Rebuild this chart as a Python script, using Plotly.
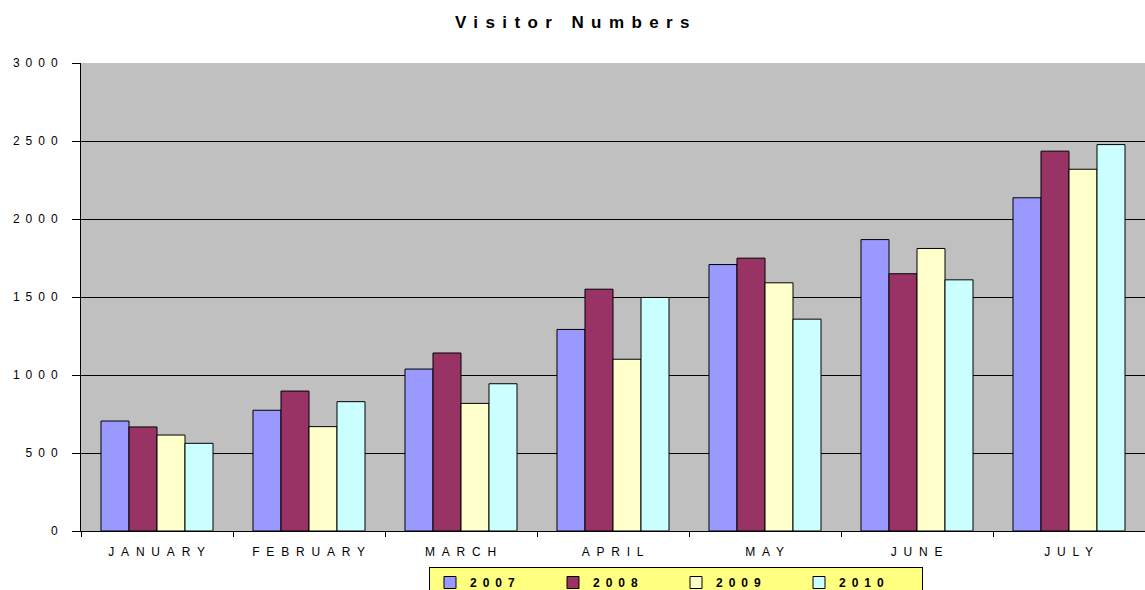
import plotly.graph_objects as go

months = ["JANUARY", "FEBRUARY", "MARCH", "APRIL", "MAY", "JUNE", "JULY"]
years = ["2007", "2008", "2009", "2010"]
v2007 = [705, 774, 1038, 1292, 1708, 1868, 2136]
v2008 = [667, 897, 1141, 1550, 1749, 1649, 2435]
v2009 = [615, 669, 818, 1101, 1591, 1811, 2319]
v2010 = [562, 829, 944, 1497, 1358, 1610, 2477]
colors = ["#9999FF", "#993366", "#FFFFCC", "#CCFFFF"]
yticks = [0, 500, 1000, 1500, 2000, 2500, 3000]
title_text = "Visitor Numbers"


def spaced(s, px):
    return '<span style="letter-spacing:%spx">%s</span>' % (px, s)


fig = go.Figure()
for name, vals, col in zip(years, [v2007, v2008, v2009, v2010], colors):
    fig.add_trace(go.Bar(
        x=months, y=vals, name=spaced(name, 6),
        marker=dict(color=col, line=dict(color="black", width=1)),
    ))

font_family = "Liberation Sans, Arial, sans-serif"
fig.update_layout(
    width=1145, height=590,
    margin=dict(l=81, r=0, t=63, b=59),
    paper_bgcolor="white",
    plot_bgcolor="#C0C0C0",
    barmode="group",
    bargap=0.263,
    bargroupgap=0,
    font=dict(family=font_family, size=12, color="black"),
    title=dict(
        text="<b>" + spaced(title_text, 7.4) + "</b>",
        x=0.503, xref="container", xanchor="center",
        y=1 - 22 / 590, yref="container", yanchor="middle",
        font=dict(family=font_family, size=17, color="black"),
    ),
    xaxis=dict(
        tickvals=months, ticktext=[spaced(m, 6.8) for m in months],
        tickson="boundaries", ticks="outside", ticklen=5, tickcolor="black",
        showline=True, linecolor="black", linewidth=1,
        showgrid=False, ticklabelstandoff=10, ticklabelshift=3,
        tickfont=dict(size=12, family=font_family),
    ),
    yaxis=dict(
        range=[0, 3000], tickvals=yticks, ticktext=[spaced(str(t), 6) for t in yticks],
        ticks="outside", ticklen=8, tickcolor="black",
        showline=True, linecolor="black", linewidth=1,
        showgrid=True, gridcolor="black", gridwidth=1,
        zeroline=False, ticklabelstandoff=6,
        tickfont=dict(size=12, family=font_family),
    ),
    legend=dict(
        orientation="h", xref="container", yref="container",
        x=676 / 1145, xanchor="center", y=1 - 567 / 590, yanchor="top",
        bgcolor="#FFFF80", bordercolor="black", borderwidth=1,
        entrywidth=78, entrywidthmode="pixels",
        font=dict(family=font_family, size=12, color="black", weight="bold"),
        traceorder="normal", itemclick=False, itemdoubleclick=False,
    ),
    showlegend=True,
)

fig.write_html(
    "out.html",
    config={"displayModeBar": False},
    post_script="document.body.style.margin='0';document.body.style.overflow='hidden';",
)
